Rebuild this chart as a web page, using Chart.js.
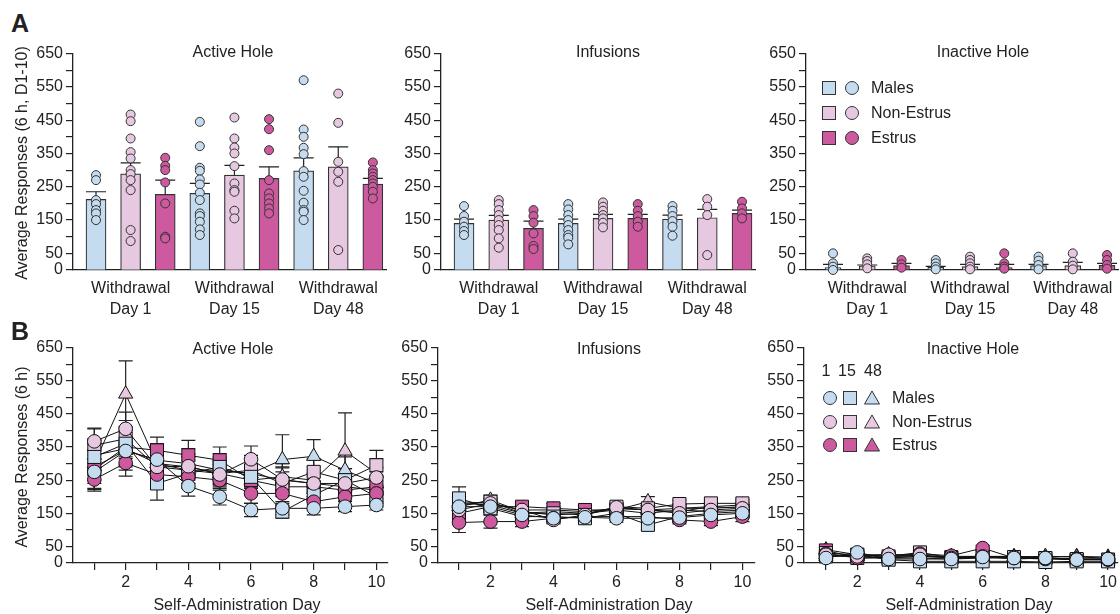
<!DOCTYPE html>
<html>
<head>
<meta charset="utf-8">
<script src="https://cdn.jsdelivr.net/npm/chart.js@4.4.1/dist/chart.umd.min.js"></script>
<style>
  body { margin: 0; background: #fff; font-family: Arial, "Liberation Sans", sans-serif; color: #222; }
  #fig { position: relative; width: 1120px; height: 614px; overflow: hidden; }
  .panel { position: absolute; z-index: 1; }
  .txt { position: absolute; z-index: 2; font-size: 16px; line-height: 20px; white-space: nowrap; }
  .ctr { transform: translateX(-50%); }
  .letter { position: absolute; z-index: 2; font-size: 25px; font-weight: bold; line-height: 25px; }
  .ytitle { position: absolute; z-index: 2; font-size: 16px; line-height: 20px; white-space: nowrap;
            transform: translate(-50%, -50%) rotate(-90deg); }
  svg.mk { position: absolute; z-index: 2; overflow: visible; }
</style>
</head>
<body>
<div id="fig">
  <div class="letter" style="left:11px; top:11px">A</div>
  <div class="letter" style="left:11px; top:319px">B</div>
  <div class="ytitle" style="left:22px; top:163px">Average Responses (6 h, D1-10)</div>
  <div class="ytitle" style="left:22px; top:457px">Average Responses (6 h)</div>
</div>
<script>
// ---- data ----
const groups = ['Males', 'Non-Estrus', 'Estrus'];
const withdrawalDays = ['Day 1', 'Day 15', 'Day 48'];
const cohortLabels = ['1', '15', '48'];
const panelTitles = ['Active Hole', 'Infusions', 'Inactive Hole'];
const days = [1, 2, 3, 4, 5, 6, 7, 8, 9, 10];

// A: bar order = D1 (M, NE, E), D15 (M, NE, E), D48 (M, NE, E)
const activeMean = [212, 289, 227, 230, 285, 275, 298, 310, 258];
const activeSem = [23, 33, 43, 30, 29, 35, 39, 60, 17];
const activePoints = [
  [285, 270, 210, 198, 180, 170, 150],
  [467, 447, 395, 354, 335, 300, 288, 270, 240, 120, 87],
  [337, 313, 300, 263, 200, 100, 95],
  [445, 372, 307, 298, 272, 257, 232, 210, 170, 162, 145, 122, 105],
  [458, 395, 368, 350, 312, 260, 240, 235, 178, 155],
  [453, 423, 360, 270, 230, 215, 200, 185, 170],
  [570, 422, 400, 367, 348, 297, 280, 238, 202, 180, 175, 150],
  [530, 442, 325, 295, 265, 60],
  [323, 300, 290, 280, 270, 260, 250, 235, 215]
];
const infusionMean = [140, 150, 125, 140, 155, 155, 153, 157, 170];
const infusionSem = [13, 14, 22, 13, 12, 12, 12, 25, 10];
const infusionPoints = [
  [192, 162, 145, 130, 117, 105],
  [210, 198, 180, 165, 150, 135, 120, 95, 67],
  [180, 162, 142, 110, 72, 63],
  [198, 182, 165, 150, 135, 120, 105, 97, 77],
  [203, 190, 178, 165, 155, 142, 128],
  [198, 178, 162, 145, 130],
  [192, 178, 162, 147, 130, 103],
  [213, 190, 165, 45],
  [205, 185, 170, 155]
];
const inactiveMean = [7, 12, 13, 8, 10, 7, 13, 13, 14];
const inactiveSem = [10, 3, 7, 3, 7, 10, 4, 10, 6];
const inactivePoints = [
  [50, 20, 10, 0],
  [35, 27, 17, 5],
  [30, 17, 7],
  [30, 20, 10, 2],
  [40, 30, 20, 10, 2],
  [50, 20, 10, 4],
  [40, 28, 15, 2],
  [50, 25, 13, 2],
  [45, 30, 15, 4]
];

// B: series order = WD1 circles (M, NE, E), WD15 squares (M, NE, E), WD48 triangles (M, NE, E)
const activeDaily = [
  [275, 338, 312, 232, 200, 160, 165, 165, 170, 175],
  [367, 405, 290, 292, 267, 313, 252, 240, 240, 258],
  [252, 302, 267, 260, 250, 210, 210, 185, 200, 210],
  [320, 360, 240, 270, 290, 260, 155, 205, 250, 200],
  [355, 375, 290, 280, 270, 280, 240, 275, 250, 295],
  [282, 350, 340, 325, 310, 250, 230, 230, 220, 230],
  [325, 345, 300, 280, 280, 270, 312, 322, 280, 240],
  [300, 510, 300, 290, 270, 250, 260, 250, 338, 270],
  [290, 340, 310, 300, 280, 270, 250, 240, 230, 220]
];
const activeDailySem = [
  [25, 40, 35, 30, 25, 20, 20, 20, 15, 15],
  [40, 50, 40, 35, 30, 40, 35, 30, 30, 30],
  [35, 40, 45, 35, 30, 30, 30, 25, 25, 25],
  [40, 45, 50, 40, 40, 35, 20, 30, 35, 30],
  [50, 55, 45, 40, 40, 45, 35, 40, 35, 45],
  [60, 60, 40, 45, 40, 35, 30, 30, 30, 35],
  [45, 50, 40, 40, 35, 40, 75, 50, 40, 35],
  [75, 100, 45, 40, 35, 35, 40, 40, 115, 45],
  [50, 60, 50, 45, 40, 40, 40, 40, 35, 40]
];
const infusionDaily = [
  [170, 170, 145, 135, 138, 135, 135, 137, 145, 150],
  [160, 180, 160, 130, 145, 168, 160, 150, 160, 165],
  [122, 125, 125, 135, 140, 140, 140, 130, 125, 140],
  [195, 165, 140, 140, 135, 150, 115, 140, 150, 155],
  [175, 185, 150, 150, 145, 170, 165, 178, 180, 180],
  [150, 170, 170, 165, 160, 160, 150, 160, 155, 160],
  [180, 175, 150, 155, 150, 165, 160, 165, 165, 170],
  [170, 190, 155, 145, 150, 160, 185, 165, 170, 175],
  [185, 180, 160, 160, 155, 165, 160, 155, 170, 165]
];
const infusionDailySem = [
  [18, 15, 12, 10, 10, 12, 12, 12, 12, 15],
  [20, 18, 15, 12, 12, 12, 15, 12, 12, 12],
  [30, 20, 15, 15, 12, 12, 12, 12, 12, 15],
  [35, 20, 15, 15, 15, 15, 15, 15, 15, 15],
  [20, 18, 15, 12, 12, 12, 15, 12, 12, 12],
  [20, 18, 12, 15, 12, 12, 12, 12, 12, 12],
  [18, 18, 12, 12, 12, 12, 12, 12, 12, 12],
  [20, 15, 12, 12, 12, 12, 15, 12, 12, 12],
  [15, 15, 12, 12, 12, 12, 12, 12, 12, 12]
];
const inactiveDaily = [
  [15, 32, 12, 12, 12, 18, 15, 15, 10, 12],
  [25, 20, 25, 25, 15, 20, 18, 15, 12, 12],
  [28, 15, 18, 28, 22, 45, 15, 12, 10, 10],
  [20, 25, 10, 5, 5, 5, 5, 3, 5, 5],
  [30, 25, 20, 32, 15, 20, 18, 15, 12, 10],
  [38, 15, 15, 20, 18, 20, 12, 15, 10, 10],
  [20, 20, 15, 15, 12, 15, 15, 15, 12, 12],
  [25, 22, 20, 20, 15, 18, 18, 20, 18, 15],
  [40, 25, 25, 22, 20, 20, 20, 18, 20, 18]
];
const inactiveDailySem = [
  [5, 5, 4, 4, 4, 5, 4, 4, 4, 4],
  [6, 5, 6, 6, 5, 5, 5, 5, 4, 4],
  [6, 5, 5, 6, 5, 8, 5, 4, 4, 4],
  [6, 5, 4, 3, 3, 3, 3, 3, 3, 3],
  [6, 5, 6, 6, 5, 5, 5, 5, 4, 4],
  [8, 5, 5, 5, 5, 5, 4, 4, 4, 4],
  [6, 5, 5, 5, 4, 5, 5, 5, 4, 4],
  [6, 5, 5, 5, 5, 5, 5, 5, 5, 5],
  [8, 6, 6, 5, 5, 5, 5, 5, 5, 5]
];

// ---- styles ----
const BLUE = '#c4dbf0', PINK = '#e7c8e1', MAGENTA = '#cd5a9e';
const groupColors = [BLUE, PINK, MAGENTA];
const cohortStyles = ['circle', 'rect', 'triangle'];
const cohortRadius = [6.8, 9.2, 8.2];
const INK = '#222';

Chart.defaults.font.family = "Arial, 'Liberation Sans', sans-serif";
Chart.defaults.font.size = 16;
Chart.defaults.color = INK;

const Y_W = 60, PAD_T = 12, PAD_R = 2;
const fig = document.getElementById('fig');

function makePanel(area, xH) {
  const div = document.createElement('div');
  div.className = 'panel';
  const w = area.right - area.left + Y_W + PAD_R;
  const h = area.bottom - area.top + PAD_T + xH;
  div.style.left = (area.left - Y_W) + 'px';
  div.style.top = (area.top - PAD_T) + 'px';
  const c = document.createElement('canvas');
  c.width = w; c.height = h;
  c.style.width = w + 'px'; c.style.height = h + 'px';
  div.appendChild(c);
  fig.appendChild(div);
  return c;
}

function addText(x, cy, text, center) {
  const d = document.createElement('div');
  d.className = 'txt' + (center ? ' ctr' : '');
  d.style.left = x + 'px';
  d.style.top = (cy - 10) + 'px';
  d.textContent = text;
  fig.appendChild(d);
}

function addMarker(cx, cy, shape, color) {
  const ns = 'http://www.w3.org/2000/svg';
  const s = document.createElementNS(ns, 'svg');
  s.setAttribute('class', 'mk');
  s.setAttribute('width', 16); s.setAttribute('height', 16);
  s.style.left = (cx - 8) + 'px'; s.style.top = (cy - 8) + 'px';
  let el;
  if (shape === 'circle') {
    el = document.createElementNS(ns, 'circle');
    el.setAttribute('cx', 8); el.setAttribute('cy', 8); el.setAttribute('r', 6.5);
  } else if (shape === 'rect') {
    el = document.createElementNS(ns, 'rect');
    el.setAttribute('x', 1.5); el.setAttribute('y', 1.5); el.setAttribute('width', 13); el.setAttribute('height', 13);
  } else {
    el = document.createElementNS(ns, 'polygon');
    el.setAttribute('points', '8,1 15.5,14 0.5,14');
  }
  el.setAttribute('fill', color);
  el.setAttribute('stroke', '#333');
  el.setAttribute('stroke-width', 1);
  s.appendChild(el);
  fig.appendChild(s);
}

function drawErrors(chart, meta, ds, both) {
  const ctx = chart.ctx, y = chart.scales.y;
  ctx.save();
  ctx.strokeStyle = INK;
  ctx.lineWidth = 1.2;
  meta.data.forEach((el, i) => {
    const m = ds.data[i].y, e = ds.sem[i];
    const x = el.x;
    const top = y.getPixelForValue(m + e);
    const bot = y.getPixelForValue(both ? Math.max(0, m - e) : m);
    ctx.beginPath();
    ctx.moveTo(x, bot); ctx.lineTo(x, top);
    ctx.moveTo(x - ds.capHalf, top); ctx.lineTo(x + ds.capHalf, top);
    if (both) { ctx.moveTo(x - ds.capHalf, bot); ctx.lineTo(x + ds.capHalf, bot); }
    ctx.stroke();
  });
  ctx.restore();
}

const errorBars = {
  id: 'errorBars',
  afterDatasetDraw(chart, args) {
    const ds = chart.data.datasets[args.index];
    if (ds.sem && ds.type === 'bar') drawErrors(chart, args.meta, ds, false);
  },
  beforeDatasetsDraw(chart) {
    chart.data.datasets.forEach((ds, i) => {
      if (ds.sem && ds.type === 'line') drawErrors(chart, chart.getDatasetMeta(i), ds, true);
    });
  }
};

function yAxis() {
  return {
    min: 0, max: 650,
    afterFit: s => { s.width = Y_W; },
    ticks: { stepSize: 50, padding: 3, autoSkip: false, callback: v => (v === 0 || v % 100 === 50) ? v : '' },
    grid: { drawOnChartArea: false, tickLength: 7, color: INK, lineWidth: 1.2 },
    border: { color: INK, width: 1.3 }
  };
}

function barPanel(area, xMin, xMax, means, sems, points, barW, capHalf) {
  const canvas = makePanel(area, 60);
  const scatter = [], scatterColors = [];
  points.forEach((vals, i) => vals.forEach(v => {
    scatter.push({ x: i, y: v });
    scatterColors.push(groupColors[i % 3]);
  }));
  new Chart(canvas, {
    type: 'bar',
    data: {
      datasets: [
        {
          type: 'bar',
          data: means.map((m, i) => ({ x: i, y: m })),
          backgroundColor: means.map((_, i) => groupColors[i % 3]),
          borderColor: '#333', borderWidth: 1.2,
          barThickness: barW,
          sem: sems, capHalf: capHalf,
          order: 2
        },
        {
          type: 'scatter',
          data: scatter,
          pointRadius: 4.5,
          pointBackgroundColor: scatterColors,
          pointBorderColor: '#333', pointBorderWidth: 1,
          clip: false,
          order: 1
        }
      ]
    },
    options: {
      responsive: false, animation: false,
      layout: { autoPadding: false, padding: { top: PAD_T, right: PAD_R, left: 0, bottom: 0 } },
      plugins: { legend: { display: false }, tooltip: { enabled: false } },
      scales: {
        x: {
          type: 'linear', min: xMin, max: xMax, offset: false,
          afterFit: s => { s.height = 60; },
          afterBuildTicks: s => { s.ticks = [1, 4, 7].map(v => ({ value: v })); },
          ticks: {
            padding: 0, autoSkip: false, maxRotation: 0,
            font: { size: 16, lineHeight: 1.3125 },
            callback: v => ['Withdrawal', withdrawalDays[(v - 1) / 3]]
          },
          grid: { display: false },
          border: { color: INK, width: 1.3 }
        },
        y: yAxis()
      }
    },
    plugins: [errorBars]
  });
}

function linePanel(area, xMin, xMax, series, sems) {
  const canvas = makePanel(area, 45);
  const datasets = series.map((vals, k) => {
    const c = Math.floor(k / 3), g = k % 3;
    return {
      type: 'line',
      data: vals.map((v, i) => ({ x: days[i], y: v })),
      sem: sems[k], capHalf: 7,
      borderColor: '#111', borderWidth: 1, tension: 0,
      pointStyle: cohortStyles[c], pointRadius: cohortRadius[c],
      pointBackgroundColor: groupColors[g],
      pointBorderColor: '#111', pointBorderWidth: 1,
      clip: false,
      order: c * 3 + g
    };
  });
  new Chart(canvas, {
    type: 'line',
    data: { datasets },
    options: {
      responsive: false, animation: false,
      layout: { autoPadding: false, padding: { top: PAD_T, right: PAD_R, left: 0, bottom: 0 } },
      plugins: { legend: { display: false }, tooltip: { enabled: false } },
      scales: {
        x: {
          type: 'linear', min: xMin, max: xMax,
          afterFit: s => { s.height = 45; },
          afterBuildTicks: s => { s.ticks = days.map(v => ({ value: v })); },
          ticks: { padding: 3, autoSkip: false, maxRotation: 0, callback: v => v % 2 === 0 ? String(v) : '' },
          grid: { drawOnChartArea: false, tickLength: 7, color: INK, lineWidth: 1.2 },
          border: { color: INK, width: 1.3 }
        },
        y: yAxis()
      }
    },
    plugins: [errorBars]
  });
}

// ---- row A ----
barPanel({ left: 73, right: 386, top: 53, bottom: 270 }, -0.665, 8.38, activeMean, activeSem, activePoints, 20, 10);
barPanel({ left: 441, right: 755, top: 53, bottom: 270 }, -0.662, 8.374, infusionMean, infusionSem, infusionPoints, 20, 10);
barPanel({ left: 806, right: 1118, top: 53, bottom: 270 }, -0.788, 8.32, inactiveMean, inactiveSem, inactivePoints, 16, 10);

// ---- row B ----
linePanel({ left: 73, right: 388, top: 347, bottom: 563 }, 0.32, 10.37, activeDaily, activeDailySem);
linePanel({ left: 438, right: 755, top: 347, bottom: 563 }, 0.333, 10.4, infusionDaily, infusionDailySem);
linePanel({ left: 804, right: 1118, top: 347, bottom: 563 }, 0.3, 10.3, inactiveDaily, inactiveDailySem);

// ---- titles ----
[233, 608, 983].forEach((x, i) => addText(x, 52, panelTitles[i], true));
[233, 609, 973].forEach((x, i) => addText(x, 349, panelTitles[i], true));
[237, 609, 969].forEach(x => addText(x, 605, 'Self-Administration Day', true));

// ---- legends ----
groups.forEach((g, i) => {
  const y = 88 + i * 25;
  addMarker(829, y, 'rect', groupColors[i]);
  addMarker(852, y, 'circle', groupColors[i]);
  addText(871, y, g);
});
[826, 847, 873].forEach((x, i) => addText(x, 371, cohortLabels[i], true));
[398, 422, 445].forEach((y, i) => {
  cohortStyles.forEach((st, c) => addMarker([830, 850, 872][c], y, st, groupColors[i]));
  addText(892, y, groups[i]);
});
</script>
</body>
</html>
